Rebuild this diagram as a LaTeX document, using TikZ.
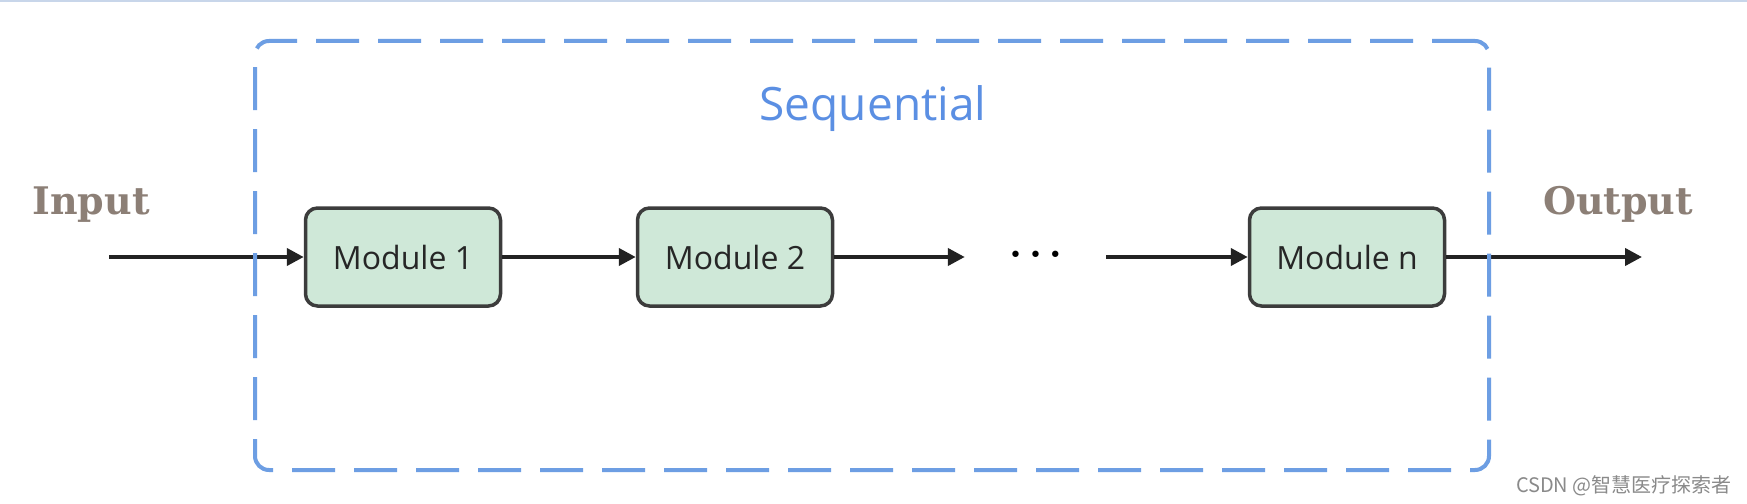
\documentclass[tikz,border=0pt]{standalone}
\usepackage{fontspec}
\usetikzlibrary{arrows.meta}
\newfontfamily\segfont{Open Sans}
\newfontfamily\labfont{DejaVu Serif}
\newfontfamily\djfont{DejaVu Sans}
\newfontfamily\cjkfont{Noto Sans CJK SC}
\definecolor{dashblue}{HTML}{6D9EE3}
\definecolor{seqblue}{HTML}{5B8FE3}
\definecolor{modfill}{HTML}{CFE8D8}
\definecolor{modline}{HTML}{3C3C3C}
\definecolor{arrowcol}{HTML}{222222}
\definecolor{labcol}{HTML}{8C7F76}
\definecolor{wmcol}{HTML}{8A8A8A}
\definecolor{toplinecol}{HTML}{C8D6EA}
\begin{document}
\begin{tikzpicture}[x=1pt,y=-1pt,
 module/.style={draw=modline, fill=modfill, line width=3.5pt, rounded corners=12pt,
   minimum width=195pt, minimum height=98pt, inner sep=0pt,
   font=\segfont\fontsize{32}{38}\selectfont, text=black!85},
 conn/.style={draw=arrowcol, line width=4pt, -{Triangle[length=17pt,width=17pt]}},
 iolabel/.style={font=\labfont\bfseries\fontsize{38}{44}\selectfont, text=labcol, inner sep=0pt, anchor=base},
 seqbox/.style={draw=dashblue, line width=4pt, dash pattern=on 43pt off 19pt, rounded corners=14pt, inner sep=0pt},
]
\useasboundingbox (0,0) rectangle (1747,503);
\fill[white] (0,0) rectangle (1747,503);
\draw[toplinecol, line width=2pt] (0,1) -- (1747,1);

\node[module] (m1) at (403,257) {Module 1};
\node[module] (m2) at (735,257) {Module 2};
\node[module] (mn) at (1347,257) {Module n};
\node[minimum width=141pt, inner sep=0pt, font=\djfont\fontsize{22}{26}\selectfont, text=black] (dots) at (1035.5,257) {• • •};

\coordinate (in) at (109,257);
\coordinate (out) at (1642,257);

\draw[conn] (in) -- (m1);
\draw[conn] (m1) -- (m2);
\draw[conn] (m2) -- (dots);
\draw[conn] (dots) -- (mn);
\draw[conn] (mn) -- (out);

\node[seqbox, minimum width=1234pt, minimum height=429pt] (box) at (872,255.5) {};

\node[font=\segfont\fontsize{46}{54}\selectfont, text=seqblue, anchor=base, inner sep=0pt] (seq) at (873,120) {Sequential};
\node[iolabel] (inlab) at (91,214) {Input};
\node[iolabel] (outlab) at (1618,214) {Output};
\node[font=\cjkfont\fontsize{20}{24}\selectfont, text=wmcol, anchor=base east, inner sep=0pt] (wm) at (1732,492) {CSDN @智慧医疗探索者};
\end{tikzpicture}
\end{document}
